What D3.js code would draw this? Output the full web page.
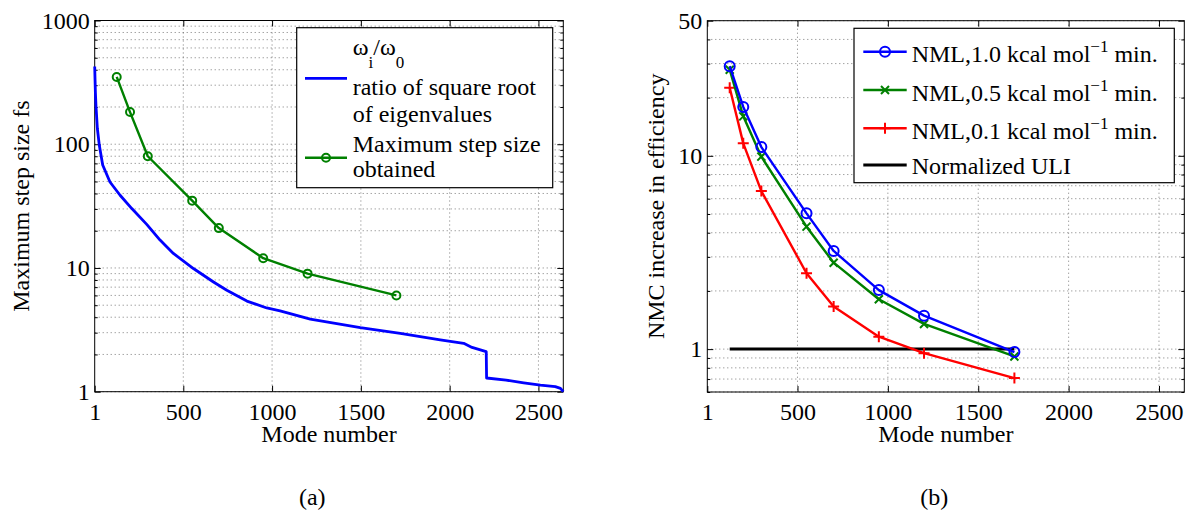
<!DOCTYPE html>
<html>
<head>
<meta charset="utf-8">
<script src="https://cdn.jsdelivr.net/npm/d3@7"></script>
<style>
  html, body { margin: 0; padding: 0; background: #fff; }
  svg text { font-family: "Liberation Serif", "Times New Roman", serif; fill: #000; }
</style>
</head>
<body>
<div id="chart"></div>
<script>
// 数据
const stepModes = [125, 200, 300, 550, 700, 950, 1200, 1700];
const maxStepSize = [350, 182, 80, 35, 21, 12, 9, 6];

const eigenModes = [1, 3, 5, 8, 16, 27, 46, 87, 144, 210, 294, 369, 444, 557, 670, 745, 858, 970, 1045,
  1215, 1497, 1722, 1947, 2079, 2126, 2201, 2206, 2208, 2318, 2417, 2511, 2595, 2624, 2640];
const eigenRatio = [425, 330, 260, 206, 134, 98, 68, 49.5, 38.7, 30.2, 22.5, 16.8, 13.1, 9.9, 7.7, 6.6, 5.4, 4.75, 4.5,
  3.86, 3.29, 2.96, 2.62, 2.46, 2.28, 2.12, 2.1, 1.29, 1.24, 1.18, 1.13, 1.1, 1.065, 1.0];

const nmlModes = [125, 200, 300, 550, 700, 950, 1200, 1700];
const nml10 = [29.1, 17.9, 11.1, 5.04, 3.22, 2.02, 1.49, 0.965];
const nml05 = [27.9, 16.0, 9.9, 4.3, 2.8, 1.81, 1.35, 0.916];
const nml01 = [22.5, 11.6, 6.57, 2.47, 1.66, 1.16, 0.953, 0.708];
const uliModes = [125, 1700];
const uliValues = [1, 1];

const xTicks = [1, 500, 1000, 1500, 2000, 2500];
const yTicksA = [1, 10, 100, 1000];
const yTicksB = [1, 10, 50];
const xDomain = [1, 2640];
const yDomainA = [1, 1000];
const yDomainB = [0.6, 50];

const FONT = 24;
const svg = d3.select('#chart').append('svg').attr('width', 1186).attr('height', 513);

// 对数轴的次刻度
function logMinor(domain, majors) {
  const out = [];
  const lo = Math.floor(Math.log10(domain[0])), hi = Math.ceil(Math.log10(domain[1]));
  for (let e = lo; e <= hi; e++) {
    for (let m = 1; m < 10; m++) {
      const v = m * Math.pow(10, e);
      if (v >= domain[0] - 1e-9 && v <= domain[1] + 1e-9 && majors.indexOf(v) < 0) out.push(v);
    }
  }
  return out;
}

/**
 * 绘制坐标框、网格和刻度
 */
function drawFrame(box, x, y, yTicks, yDomain) {
  const g = svg.append('g');
  const minor = logMinor(yDomain, yTicks);
  const grid = g.append('g')
    .attr('stroke', '#444').attr('stroke-width', 0.7).attr('stroke-dasharray', '1,3');
  grid.selectAll('line.h').data(yTicks.concat(minor)).enter().append('line')
    .attr('x1', box.left).attr('x2', box.right)
    .attr('y1', d => y(d)).attr('y2', d => y(d));
  grid.selectAll('line.v').data(xTicks.slice(1)).enter().append('line')
    .attr('x1', d => x(d)).attr('x2', d => x(d))
    .attr('y1', box.top).attr('y2', box.bottom);

  const fmt = d3.format('d');
  const axes = [
    { a: d3.axisBottom(x).tickValues(xTicks).tickSize(-6).tickPadding(11).tickFormat(fmt), t: `translate(0,${box.bottom})` },
    { a: d3.axisTop(x).tickValues(xTicks).tickSize(-6).tickFormat(''), t: `translate(0,${box.top})` },
    { a: d3.axisLeft(y).tickValues(yTicks).tickSize(-6).tickPadding(5).tickFormat(fmt), t: `translate(${box.left},0)` },
    { a: d3.axisRight(y).tickValues(yTicks).tickSize(-6).tickFormat(''), t: `translate(${box.right},0)` },
    { a: d3.axisLeft(y).tickValues(minor).tickSize(-3).tickFormat(''), t: `translate(${box.left},0)` },
    { a: d3.axisRight(y).tickValues(minor).tickSize(-3).tickFormat(''), t: `translate(${box.right},0)` }
  ];
  axes.forEach(item => {
    const ag = g.append('g').attr('transform', item.t).call(item.a.tickSizeOuter(0));
    ag.select('.domain').remove();
    ag.selectAll('line').attr('stroke', '#000');
    ag.selectAll('text').style('font-size', FONT + 'px')
      .style('font-family', '"Liberation Serif", "Times New Roman", serif').attr('fill', '#000');
  });

  g.append('rect')
    .attr('x', box.left).attr('y', box.top)
    .attr('width', box.right - box.left).attr('height', box.bottom - box.top)
    .attr('fill', 'none').attr('stroke', '#000').attr('stroke-width', 1);
  return g;
}

function drawMarker(g, type, cx, cy, color) {
  if (type === 'circle' || type === 'circleSmall') {
    g.append('circle').attr('cx', cx).attr('cy', cy).attr('r', type === 'circle' ? 5 : 4)
      .attr('fill', 'none').attr('stroke', color).attr('stroke-width', 2);
  } else if (type === 'x') {
    g.append('path').attr('transform', `translate(${cx},${cy})`)
      .attr('d', 'M-4,-4L4,4M-4,4L4,-4').attr('stroke', color).attr('stroke-width', 2);
  } else if (type === 'plus') {
    g.append('path').attr('transform', `translate(${cx},${cy})`)
      .attr('d', 'M-5.5,0H5.5M0,-5.5V5.5').attr('stroke', color).attr('stroke-width', 2);
  }
}

function drawSeries(g, x, y, xs, ys, color, width, marker) {
  const pts = xs.map((d, i) => [d, ys[i]]);
  const line = d3.line().x(d => x(d[0])).y(d => y(d[1]));
  g.append('path').datum(pts).attr('d', line)
    .attr('fill', 'none').attr('stroke', color).attr('stroke-width', width)
    .attr('stroke-linejoin', 'round');
  if (marker) pts.forEach(p => drawMarker(g, marker, x(p[0]), y(p[1]), color));
}

function addText(parts, x, y, anchor) {
  const t = svg.append('text').attr('x', x).attr('y', y).attr('text-anchor', anchor || 'start')
    .style('font-size', FONT + 'px');
  parts.forEach(p => {
    const ts = t.append('tspan').text(p.s);
    if (p.dy) ts.attr('dy', p.dy);
    if (p.size) ts.style('font-size', p.size + 'px');
  });
  return t;
}

// ---------- (a) ----------
const boxA = { left: 94.7, right: 563.3, top: 20.5, bottom: 391.7 };
const xA = d3.scaleLinear().domain(xDomain).range([boxA.left, boxA.right]);
const yA = d3.scaleLog().domain(yDomainA).range([boxA.bottom, boxA.top]);
const gA = drawFrame(boxA, xA, yA, yTicksA, yDomainA);
drawSeries(gA, xA, yA, eigenModes, eigenRatio, '#0000ff', 2.8, null);
drawSeries(gA, xA, yA, stepModes, maxStepSize, '#008000', 2.4, 'circleSmall');

// 图例 (a)
svg.append('rect').attr('x', 296.7).attr('y', 27.7).attr('width', 256).attr('height', 160)
  .attr('fill', '#fff').attr('stroke', '#000').attr('stroke-width', 1.2);
svg.append('line').attr('x1', 305).attr('x2', 347).attr('y1', 78.3).attr('y2', 78.3)
  .attr('stroke', '#0000ff').attr('stroke-width', 2.8);
svg.append('line').attr('x1', 305).attr('x2', 347).attr('y1', 157.7).attr('y2', 157.7)
  .attr('stroke', '#008000').attr('stroke-width', 2.4);
drawMarker(svg, 'circleSmall', 326, 157.7, '#008000');
addText([{ s: 'ω' }, { s: 'i', dy: 12.5, size: 17 }, { s: '/ω', dy: -12.5, size: FONT }, { s: '0', dy: 12.5, size: 17 }], 352.7, 55);
addText([{ s: 'ratio of square root' }], 352.7, 95);
addText([{ s: 'of eigenvalues' }], 352.7, 122.3);
addText([{ s: 'Maximum step size' }], 352.7, 152.3);
addText([{ s: 'obtained' }], 352.7, 176.7);

addText([{ s: 'Mode number' }], (boxA.left + boxA.right) / 2, 442, 'middle');
addText([{ s: 'Maximum step size fs' }], 0, 0, 'middle')
  .attr('transform', `translate(29,${(boxA.top + boxA.bottom) / 2}) rotate(-90)`);
addText([{ s: '(a)' }], 312.3, 504.5, 'middle');

// ---------- (b) ----------
const boxB = { left: 707.3, right: 1184.3, top: 20.7, bottom: 392 };
const xB = d3.scaleLinear().domain(xDomain).range([boxB.left, boxB.right]);
const yB = d3.scaleLog().domain(yDomainB).range([boxB.bottom, boxB.top]);
const gB = drawFrame(boxB, xB, yB, yTicksB, yDomainB);
drawSeries(gB, xB, yB, uliModes, uliValues, '#000', 3, null);
drawSeries(gB, xB, yB, nmlModes, nml01, '#ff0000', 2.4, 'plus');
drawSeries(gB, xB, yB, nmlModes, nml05, '#008000', 2.4, 'x');
drawSeries(gB, xB, yB, nmlModes, nml10, '#0000ff', 2.4, 'circle');

// 图例 (b)
const legendB = [
  { label: 'NML,1.0 kcal mol', color: '#0000ff', marker: 'circle', y: 51.7 },
  { label: 'NML,0.5 kcal mol', color: '#008000', marker: 'x', y: 90 },
  { label: 'NML,0.1 kcal mol', color: '#ff0000', marker: 'plus', y: 128.3 },
  { label: 'Normalized ULI', color: '#000', marker: null, y: 165 }
];
svg.append('rect').attr('x', 854).attr('y', 28.3).attr('width', 320.3).attr('height', 154.4)
  .attr('fill', '#fff').attr('stroke', '#000').attr('stroke-width', 1.2);
legendB.forEach(item => {
  svg.append('line').attr('x1', 863.3).attr('x2', 906.7).attr('y1', item.y).attr('y2', item.y)
    .attr('stroke', item.color).attr('stroke-width', item.marker ? 2.4 : 3);
  if (item.marker) drawMarker(svg, item.marker, 885, item.y, item.color);
  if (item.marker) {
    addText([{ s: item.label }, { s: '−1', dy: -10, size: 17 }, { s: ' min.', dy: 10, size: FONT }], 911.7, item.y + 10.6);
  } else {
    addText([{ s: item.label }], 911.7, item.y + 8.5);
  }
});

addText([{ s: 'Mode number' }], (boxB.left + boxB.right) / 2, 442, 'middle');
addText([{ s: 'NMC increase in efficiency' }], 0, 0, 'middle')
  .attr('transform', `translate(664,${(boxB.top + boxB.bottom) / 2}) rotate(-90)`);
addText([{ s: '(b)' }], 934.3, 504.5, 'middle');
</script>
</body>
</html>
